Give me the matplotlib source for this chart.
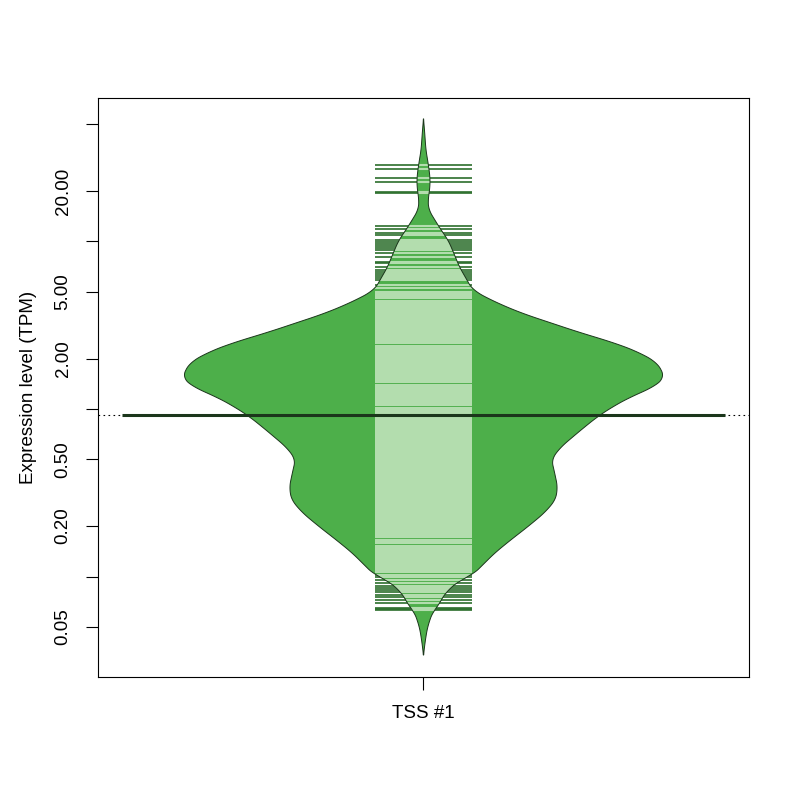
import numpy as np
import matplotlib.pyplot as plt
from matplotlib.patches import Polygon

plt.rcParams['font.family'] = ['Liberation Sans', 'DejaVu Sans']

# bean outline: expression level (TPM) and relative density
bean_tpm = [0.034, 0.042, 0.05, 0.061, 0.066, 0.080, 0.095, 0.102, 0.114, 0.138,
            0.165, 0.198, 0.240, 0.287, 0.343, 0.415, 0.50, 0.59, 0.72, 0.78,
            0.90, 1.03, 1.18, 1.36, 1.55, 1.88, 2.16, 2.48, 2.85, 3.27,
            3.75, 4.48, 5.14, 5.66, 7.05, 8.9, 10.2, 11.7, 13.5, 15.5,
            17.7, 21.2, 24.3, 29.4, 35.2, 46.4, 53.9]
bean_density = [0, 0.008, 0.017, 0.037, 0.058, 0.091, 0.149, 0.203, 0.237, 0.295,
                0.361, 0.432, 0.502, 0.548, 0.556, 0.544, 0.531, 0.568, 0.639, 0.668,
                0.722, 0.784, 0.859, 0.959, 1.0, 0.971, 0.900, 0.793, 0.651, 0.527,
                0.402, 0.278, 0.203, 0.187, 0.149, 0.120, 0.102, 0.073, 0.046, 0.021,
                0.019, 0.027, 0.027, 0.019, 0.010, 0.004, 0]

# single observations (TPM), one bean line each
obs_top = [28.6, 26.9, 24.0, 22.7, 19.6, 19.4]
obs_upper = [12.3, 11.9, 11.3, 11.0, 10.2, 9.95, 9.67, 9.41, 9.15, 8.83, 8.51, 8.12,
             7.58, 7.42, 7.08, 6.76, 6.58, 6.40, 6.23, 6.06, 5.90, 5.50, 5.26, 5.00,
             4.86, 4.73, 4.60]
obs_middle = [4.42, 4.30, 4.19, 4.08, 3.97, 3.87, 3.76, 3.66, 3.57, 3.47, 3.38, 3.29,
              3.21, 3.12, 3.04, 2.96, 2.88, 2.81, 2.73, 2.66, 2.59, 2.52, 2.46, 2.39,
              2.33, 2.27, 2.21, 2.15, 2.09, 2.04, 1.98, 1.93, 1.88, 1.83, 1.78, 1.74,
              1.69, 1.65, 1.60, 1.56, 1.52, 1.48, 1.44, 1.40, 1.37, 1.33, 1.30, 1.26,
              1.23, 1.20, 1.16, 1.13, 1.10, 1.08, 1.05, 1.02, 0.994, 0.968, 0.942, 0.917,
              0.893, 0.870, 0.847, 0.825, 0.803, 0.782, 0.761, 0.741, 0.722, 0.703, 0.684,
              0.666, 0.649, 0.632, 0.615, 0.599, 0.583, 0.568, 0.553, 0.538, 0.524, 0.510,
              0.497, 0.484, 0.471, 0.459, 0.447, 0.435, 0.423, 0.412, 0.401, 0.391, 0.380,
              0.370, 0.361, 0.351, 0.342, 0.333, 0.324, 0.316, 0.307, 0.299, 0.291, 0.284,
              0.276, 0.269, 0.262, 0.255, 0.248, 0.242, 0.235, 0.229, 0.223, 0.217, 0.211,
              0.206, 0.200, 0.195, 0.190, 0.185, 0.180, 0.175, 0.171, 0.166, 0.162, 0.158,
              0.153, 0.149, 0.145, 0.142, 0.138, 0.134, 0.131, 0.127, 0.124, 0.121, 0.117,
              0.114, 0.111, 0.108, 0.106]
obs_bottom = [0.102, 0.0994, 0.0954, 0.0915, 0.0879, 0.0855, 0.0832, 0.0809, 0.0776,
              0.0755, 0.0725, 0.0695, 0.0649, 0.0640, 0.0632]
avg_tpm = 0.92

group_label = 'TSS #1'
y_ticks = [0.05, 0.1, 0.2, 0.5, 1, 2, 5, 10, 20, 50]
y_tick_labels = ['0.05', '', '0.20', '0.50', '', '2.00', '5.00', '', '20.00', '']

fill_col = '#4daf4a'
dark_col = '#1b361b'
light_col = '#b3ddae'
out_col = '#2c6e2c'

fig = plt.figure(figsize=(8, 8), dpi=100)
ax = fig.add_axes([0.1225, 0.15375, 0.81375, 0.72375])
ax.set_yscale('log')
ax.set_xlim(0.46, 1.54)
ax.set_ylim(0.02514, 71.8)

# bean shape, interpolated in log space and smoothed
logs = np.log10(bean_tpm)
grid = np.linspace(logs[0], logs[-1], 900)
dens = np.interp(grid, logs, bean_density)
w = 21
k = np.ones(w) / w
dens = np.convolve(np.pad(dens, w // 2, mode='edge'), k, mode='valid')
half = 0.4 * dens
yy = 10 ** grid
xs = np.concatenate([1 - half, (1 + half)[::-1]])
ys = np.concatenate([yy, yy[::-1]])
pts = np.column_stack([xs, ys])

# overall line (dotted)
ax.axhline(avg_tpm, color='black', lw=0.8, ls=(0, (1.5, 3)), zorder=1)

bean = Polygon(pts, closed=True, facecolor=fill_col, edgecolor='none', zorder=2)
ax.add_patch(bean)

obs = obs_top + obs_upper + obs_middle + obs_bottom
for v in obs:
    ax.plot([0.92, 1.08], [v, v], color=out_col, lw=1.2, solid_capstyle='butt', zorder=3)
for v in obs:
    ln, = ax.plot([0.92, 1.08], [v, v], color=light_col, lw=1.5,
                  solid_capstyle='butt', zorder=4)
    ln.set_clip_path(bean)

outline = Polygon(pts, closed=True, facecolor='none', edgecolor=dark_col, lw=0.7, zorder=5)
ax.add_patch(outline)

ax.plot([0.5, 1.5], [avg_tpm, avg_tpm], color=dark_col, lw=2.2, solid_capstyle='butt', zorder=6)

ax.set_yticks(y_ticks)
ax.set_yticklabels(y_tick_labels)
ax.yaxis.set_minor_locator(plt.NullLocator())
ax.set_xticks([1])
ax.set_xticklabels([group_label])
ax.tick_params(axis='y', length=9, width=0.8, pad=10, labelsize=13.5)
ax.tick_params(axis='x', length=9, width=0.8, pad=11, labelsize=13.5)
plt.setp(ax.get_yticklabels(), rotation=90, va='center')
for s in ax.spines.values():
    s.set_linewidth(0.8)

ax.set_ylabel('Expression level (TPM)', fontsize=13.5)
ax.yaxis.set_label_coords(-0.094, 0.5)

fig.savefig('out.png', dpi=100)
